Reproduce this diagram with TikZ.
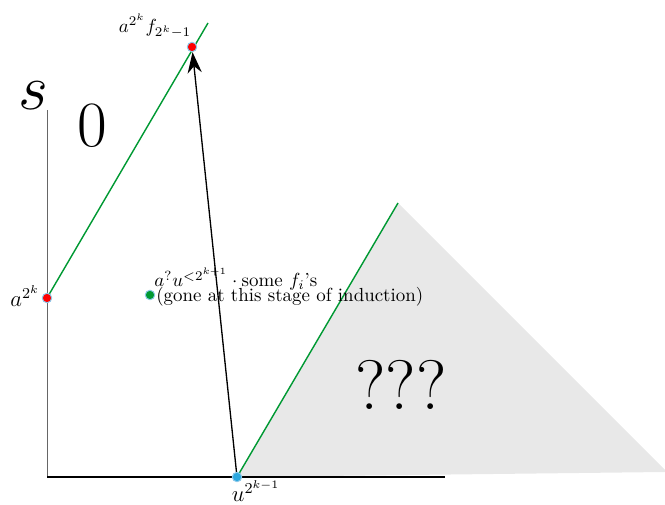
\documentclass[tikz,border=0pt]{standalone}
\usetikzlibrary{arrows.meta}
\definecolor{lgreen}{HTML}{009933}
\definecolor{lgray}{HTML}{E8E8E8}
\definecolor{dotblue}{HTML}{2AA7DE}
\definecolor{ringblue}{HTML}{8CC8EA}
\begin{document}
\begin{tikzpicture}[x=0.528pt,y=-0.528pt,
  big/.style={font=\Huge, inner sep=0pt},
  gline/.style={lgreen, line width=0.75pt},
  axis/.style={black, line width=0.6pt},
  reddot/.style={circle, fill=red, draw=ringblue, line width=0.5pt, minimum size=5pt, inner sep=0pt},
  bluedot/.style={circle, fill=dotblue, draw=ringblue, line width=0.5pt, minimum size=5pt, inner sep=0pt},
  greendot/.style={circle, fill=lgreen, draw=ringblue, line width=0.5pt, minimum size=5pt, inner sep=0pt},
  lbl/.style={inner sep=1pt}]
\useasboundingbox (0,0) rectangle (665,505);
% coordinates
\coordinate (O) at (47,477);
\coordinate (Ytop) at (47,110);
\coordinate (Xend) at (445,477);
\coordinate (A) at (47,298);
\coordinate (Atop) at (208,23);
\coordinate (U) at (237,477);
\coordinate (T) at (398,203);
\coordinate (R) at (665,470);
\coordinate (Rb) at (665,472);
% gray region
\fill[lgray] (U) -- (T) -- (R) -- (Rb) -- cycle;
% axes
\draw[axis, line width=0.5pt, black!60] (O) -- (Ytop);
\draw[axis] (O) -- (Xend);
% green lines
\draw[gline] (A) -- (Atop);
\draw[gline] (U) -- (T);
% dots
\node[reddot] (p1) at (A) {};
\node[reddot] (p2) at (192,47) {};
\node[bluedot] (pu) at (U) {};
\node[greendot] (pg) at (150,295) {};
% arrow
\draw[-{Stealth[length=11pt,width=7.5pt]}, line width=0.7pt] (pu) -- (p2);
% texts
\node[big] (s) at (33,96) {\scalebox{1.37}{$s$}};
\node[big] (zero) at (92,126) {\scalebox{1.37}{$0$}};
\node[inner sep=0pt, font=\fontsize{37}{42}\selectfont] (q) at (401,385) {???};
\node[lbl, anchor=east, font=\large] (la) at (42,296) {$a^{2^k}$};
\node[lbl] (lt) at (155,26) {$a^{2^k}f_{2^k-1}$};
\node[lbl, font=\large] (lu) at (256,491) {$u^{2^{k-1}}$};
\node[lbl, anchor=base west] (l1) at (152,287) {$a^?u^{<2^{k+1}}\cdot{}$some $f_i$'s};
\node[lbl, anchor=base west] (l2) at (154,302) {(gone at this stage of induction)};
\end{tikzpicture}
\end{document}
